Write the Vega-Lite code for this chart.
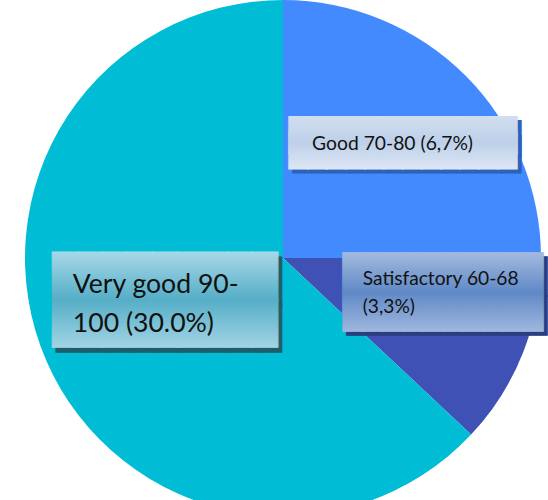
{
  "$schema": "https://vega.github.io/schema/vega-lite/v6.json",
  "width": 530,
  "height": 484,
  "autosize": {"type": "none"},
  "padding": {"left": 18, "top": 16, "right": 0, "bottom": 0},
  "background": "white",
  "config": {"view": {"stroke": null}},
  "data": {"values": [
    {"grade": "Good 70-80", "label": "Good 70-80 (6,7%)", "share": 25, "order": 1},
    {"grade": "Satisfactory 60-68", "label": "Satisfactory 60-68\n(3,3%)", "share": 12, "order": 2},
    {"grade": "Very good 90-100", "label": "Very good 90-\n100 (30.0%)", "share": 63, "order": 3}
  ]},
  "encoding": {
    "theta": {"field": "share", "type": "quantitative", "stack": true},
    "order": {"field": "order", "type": "quantitative"}
  },
  "layer": [
    {
      "mark": {"type": "arc", "outerRadius": 258, "stroke": null},
      "encoding": {
        "color": {"field": "grade", "type": "nominal",
          "scale": {"domain": ["Good 70-80", "Satisfactory 60-68", "Very good 90-100"], "range": ["#448AFF", "#3F51B5", "#00BCD4"]},
          "legend": null}
      }
    },
    {
      "mark": {"type": "text", "radius": 167, "dx": 6, "dy": 1.3, "font": "DejaVu Sans Mono", "fontSize": 31.56, "lineHeight": 14.3, "lineBreak": "\n", "align": "center", "baseline": "middle", "fill": "#2E62B8", "stroke": "#2E62B8", "strokeWidth": 1},
      "encoding": {"text": {"condition": {"test": "datum.order === 1", "value": "████████████\n████████████"}, "value": ""}}
    },
    {
      "mark": {"type": "text", "radius": 167, "dx": 2, "dy": -2.7, "font": "DejaVu Sans Mono", "fontSize": 31.56, "lineHeight": 14.3, "lineBreak": "\n", "align": "center", "baseline": "middle",
        "fill": {"gradient": "linear", "x1": 0, "y1": 0, "x2": 0, "y2": 1, "stops": [{"offset": 0, "color": "#d2def0"}, {"offset": 0.5, "color": "#bdd0e9"}, {"offset": 1, "color": "#dce6f4"}]},
        "stroke": {"gradient": "linear", "x1": 0, "y1": 0, "x2": 0, "y2": 1, "stops": [{"offset": 0, "color": "#d2def0"}, {"offset": 0.5, "color": "#bdd0e9"}, {"offset": 1, "color": "#dce6f4"}]},
        "strokeWidth": 1},
      "encoding": {"text": {"condition": {"test": "datum.order === 1", "value": "████████████\n████████████"}, "value": ""}}
    },
    {
      "mark": {"type": "text", "radius": 167, "dx": -89, "dy": 10, "font": "Lato", "fontSize": 19.3, "align": "left", "baseline": "alphabetic", "fill": "#111111"},
      "encoding": {"text": {"condition": {"test": "datum.order === 1", "field": "label"}, "value": ""}}
    },
    {
      "mark": {"type": "text", "radius": 161, "dx": 14, "dy": -38.8, "font": "DejaVu Sans Mono", "fontSize": 33.22, "lineHeight": 38.6, "lineBreak": "\n", "align": "center", "baseline": "middle", "fill": "#2B3F80", "stroke": "#2B3F80", "strokeWidth": 1},
      "encoding": {"text": {"condition": {"test": "datum.order === 2", "value": "██████████\n██████████"}, "value": ""}}
    },
    {
      "mark": {"type": "text", "radius": 161, "dx": 10, "dy": -42.8, "font": "DejaVu Sans Mono", "fontSize": 33.22, "lineHeight": 38.6, "lineBreak": "\n", "align": "center", "baseline": "middle",
        "fill": {"gradient": "linear", "x1": 0, "y1": 0, "x2": 0, "y2": 1, "stops": [{"offset": 0, "color": "#a4badf"}, {"offset": 0.5, "color": "#5f89c6"}, {"offset": 1, "color": "#a0b8de"}]},
        "stroke": {"gradient": "linear", "x1": 0, "y1": 0, "x2": 0, "y2": 1, "stops": [{"offset": 0, "color": "#a4badf"}, {"offset": 0.5, "color": "#5f89c6"}, {"offset": 1, "color": "#a0b8de"}]},
        "strokeWidth": 1},
      "encoding": {"text": {"condition": {"test": "datum.order === 2", "value": "██████████\n██████████"}, "value": ""}}
    },
    {
      "mark": {"type": "text", "radius": 161, "dx": -70, "dy": -32, "font": "Lato", "fontSize": 19.2, "lineHeight": 28, "lineBreak": "\n", "align": "left", "baseline": "alphabetic", "fill": "#111111"},
      "encoding": {"text": {"condition": {"test": "datum.order === 2", "field": "label"}, "value": ""}}
    },
    {
      "mark": {"type": "text", "radius": 125.5, "dx": 1, "dy": -24, "font": "DejaVu Sans Mono", "fontSize": 41.52, "lineHeight": 45.7, "lineBreak": "\n", "align": "center", "baseline": "middle", "fill": "#1E5E6C", "stroke": "#1E5E6C", "strokeWidth": 1},
      "encoding": {"text": {"condition": {"test": "datum.order === 3", "value": "█████████\n█████████"}, "value": ""}}
    },
    {
      "mark": {"type": "text", "radius": 125.5, "dx": -3, "dy": -29, "font": "DejaVu Sans Mono", "fontSize": 41.52, "lineHeight": 45.7, "lineBreak": "\n", "align": "center", "baseline": "middle",
        "fill": {"gradient": "linear", "x1": 0, "y1": 0, "x2": 0, "y2": 1, "stops": [{"offset": 0, "color": "#a8d8e8"}, {"offset": 0.5, "color": "#55aec7"}, {"offset": 1, "color": "#a2d4e4"}]},
        "stroke": {"gradient": "linear", "x1": 0, "y1": 0, "x2": 0, "y2": 1, "stops": [{"offset": 0, "color": "#a8d8e8"}, {"offset": 0.5, "color": "#55aec7"}, {"offset": 1, "color": "#a2d4e4"}]},
        "strokeWidth": 1},
      "encoding": {"text": {"condition": {"test": "datum.order === 3", "value": "█████████\n█████████"}, "value": ""}}
    },
    {
      "mark": {"type": "text", "radius": 125.5, "dx": -95, "dy": -15, "font": "Lato", "fontSize": 26.6, "lineHeight": 39, "lineBreak": "\n", "align": "left", "baseline": "alphabetic", "fill": "#111111"},
      "encoding": {"text": {"condition": {"test": "datum.order === 3", "field": "label"}, "value": ""}}
    }
  ]
}
